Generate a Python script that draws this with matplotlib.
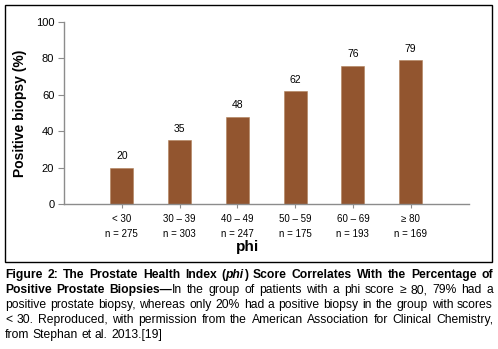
import matplotlib
matplotlib.use("Agg")
import matplotlib.pyplot as plt
from matplotlib.patches import Rectangle

# -----------------------------
# Data
# -----------------------------
groups = ["< 30", "30 – 39", "40 – 49", "50 – 59", "60 – 69", "≥ 80"]
counts = [275, 303, 247, 175, 193, 169]
positive_pct = [20, 35, 48, 62, 76, 79]
yticks = [0, 20, 40, 60, 80, 100]

caption_lines = [
    [("Figure 2: The Prostate Health Index (", "bold", "normal"), ("phi", "bold", "italic"),
     (") Score Correlates With the Percentage of", "bold", "normal")],
    [("Positive Prostate Biopsies—", "bold", "normal"),
     ("In the group of patients with a phi score ≥ 80, 79% had a", "normal", "normal")],
    [("positive prostate biopsy, whereas only 20% had a positive biopsy in the group with scores", "normal", "normal")],
    [("< 30. Reproduced, with permission from the American Association for Clinical Chemistry,", "normal", "normal")],
    [("from Stephan et al. 2013.[19]", "normal", "normal")],
]

W, H = 498, 349
bar_color = "#92552f"
axis_gray = "#8c8c8c"
font = ["Liberation Sans", "DejaVu Sans"]
plt.rcParams["font.family"] = font

fig = plt.figure(figsize=(W / 100, H / 100), dpi=100)

# frame around the chart
fig.patches.append(Rectangle((4.5 / W, 1 - 262 / H), 487.5 / W, 257.5 / H,
                             transform=fig.transFigure, fill=False,
                             edgecolor="black", linewidth=1.0))

ax = fig.add_axes([64 / W, 1 - 204 / H, 404.5 / W, 182 / H])
x = list(range(len(groups)))
bars = ax.bar(x, positive_pct, width=0.4, color=bar_color, edgecolor="#b0805a", linewidth=0.4)
for xi, v in zip(x, positive_pct):
    ax.text(xi, v + 3.5, str(v), ha="center", va="bottom", fontsize=7.5)

ax.set_xlim(-1, 6)
ax.set_ylim(0, 100)
ax.set_yticks(yticks)
ax.set_xticks(x)
ax.set_xticklabels([f"{g}\nn = {n}" for g, n in zip(groups, counts)], fontsize=7,
                   linespacing=1.6)
ax.tick_params(axis="y", labelsize=8, length=4, color=axis_gray, pad=3)
ax.tick_params(axis="x", length=3, color=axis_gray, pad=4)
for s in ["top", "right"]:
    ax.spines[s].set_visible(False)
for s in ["left", "bottom"]:
    ax.spines[s].set_color(axis_gray)
    ax.spines[s].set_linewidth(1.0)
ax.set_ylabel("Positive biopsy (%)", fontsize=10, fontweight="bold", labelpad=6)
fig.text(248 / W, 1 - 247 / H, "phi", ha="center", va="center",
         fontsize=11, fontweight="bold")

# -----------------------------
# Justified caption, placed word by word
# (baselines offset from the pixel grid so every word rounds to the same row)
# -----------------------------
renderer = fig.canvas.get_renderer()
left, right = 5.0, 493.0
fs = 8.7
line_base = [278.3, 293.3, 308.3, 323.3, 338.3]
for li, segs in enumerate(caption_lines):
    words = []
    for text, weight, style in segs:
        parts = text.split(" ")
        for pi, p in enumerate(parts):
            if p == "":
                continue
            glue = pi == 0 and words and not text.startswith(" ")
            words.append((p, weight, style, glue))
    groups_w = []
    for w in words:
        if w[3] and groups_w:
            groups_w[-1].append(w)
        else:
            groups_w.append([w])
    objs = []
    widths = []
    for g in groups_w:
        gobjs = []
        gw = 0
        for p, weight, style, _ in g:
            t = fig.text(0, 0, p, fontsize=fs, fontweight=weight, fontstyle=style,
                         ha="left", va="baseline")
            bb = t.get_window_extent(renderer)
            gobjs.append((t, bb.width))
            gw += bb.width
        objs.append(gobjs)
        widths.append(gw)
    total = sum(widths)
    n_gaps = len(groups_w) - 1
    if li < len(caption_lines) - 1 and n_gaps > 0:
        gap = (right - left - total) / n_gaps
    else:
        gap = renderer.points_to_pixels(fs) * 0.28
    xpos = left
    y = 1 - line_base[li] / H
    for gobjs, gw in zip(objs, widths):
        xx = xpos
        for t, w in gobjs:
            t.set_position((xx / W, y))
            xx += w
        xpos += gw + gap

fig.savefig("out.png", dpi=100)
